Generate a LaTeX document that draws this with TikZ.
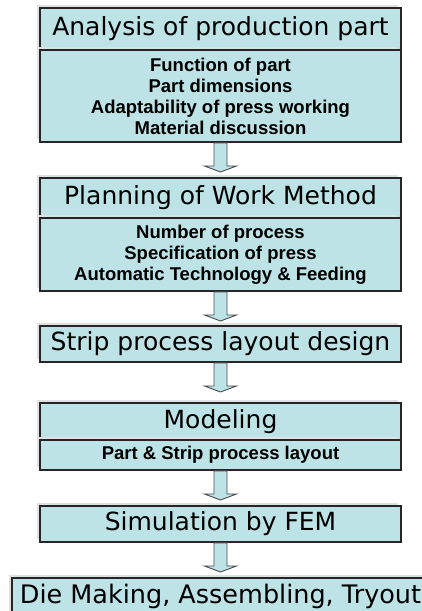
\documentclass[tikz,border=0pt]{standalone}
\usepackage{fontspec}
\setmainfont{Liberation Sans}
\newfontfamily\headfont{DejaVu Sans}
\usetikzlibrary{positioning,calc,shadows}
\definecolor{boxcyan}{RGB}{189,227,231}
\tikzset{
    box/.style={
        draw=black!85,
        line width=1.3pt,
        fill=boxcyan,
        minimum width=361pt,
        inner sep=0pt,
        outer sep=0pt,
        general shadow={shadow xshift=-3pt, shadow yshift=3pt, fill=black!12}
    },
    headbox/.style={box, font=\headfont\fontsize{25}{29}\selectfont},
    itembox/.style={box, align=center, font=\bfseries\fontsize{18.5}{21}\selectfont},
    flow/.style={
        draw=black!70,
        line width=0.9pt,
        fill=boxcyan,
        to path={let \p1=(\tikztostart) in
            (\x1-6.5,\y1-1) -- (\x1-6.5,\y1-24) -- (\x1-16,\y1-24) -- (\x1,\y1-30)
            -- (\x1+16,\y1-24) -- (\x1+6.5,\y1-24) -- (\x1+6.5,\y1-1) -- cycle}
    }
}

\begin{document}
\begin{tikzpicture}[x=1pt, y=1pt]
    \useasboundingbox (0,0) rectangle (422,611);
    \clip (0,0) rectangle (422,611);

    % Steps
    \node[headbox, minimum height=42pt] (analysis) at (220.5,582) {Analysis of production part};
    \node[itembox, minimum height=92pt, below=0pt of analysis] (analysisitems)
        {Function of part\\Part dimensions\\Adaptability of press working\\Material discussion};

    \node[headbox, minimum height=40pt] (planning) at (220.5,413) {Planning of Work Method};
    \node[itembox, minimum height=73pt, below=0pt of planning] (planningitems)
        {Number of process\\Specification of press\\Automatic Technology \& Feeding};

    \node[headbox, minimum height=36pt] (strip) at (220.5,267) {Strip process layout design};

    \node[headbox, minimum height=37pt] (modeling) at (220.5,189.5) {Modeling};
    \node[itembox, minimum height=30pt, below=0pt of modeling] (modelingitems)
        {Part \& Strip process layout};

    \node[headbox, minimum height=36pt] (fem) at (220.5,87) {Simulation by FEM};

    \node[headbox, minimum width=417pt, minimum height=37pt,
          font=\headfont\fontsize{25.5}{29}\selectfont] (die) at (220.5,14.5)
        {Die Making, Assembling, Tryout};

    % Arrows
    \draw[flow] (analysisitems.south) to (planning.north);
    \draw[flow] (planningitems.south) to (strip.north);
    \draw[flow] (strip.south) to (modeling.north);
    \draw[flow] (modelingitems.south) to (fem.north);
    \draw[flow] (fem.south) to (die.north);
\end{tikzpicture}
\end{document}
